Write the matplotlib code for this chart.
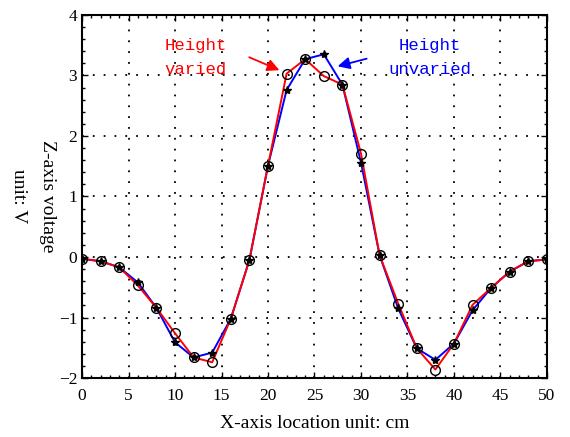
import numpy as np
import matplotlib
matplotlib.use("Agg")
import matplotlib.pyplot as plt
from matplotlib.ticker import MultipleLocator

# -------------------------------
# Data
# -------------------------------
x_cm = [0, 2, 4, 6, 8, 10, 12, 14, 16, 18, 20, 22, 24, 26, 28,
        30, 32, 34, 36, 38, 40, 42, 44, 46, 48, 50]

# height varied (red, open circles)
v_varied = [-0.03, -0.07, -0.17, -0.47, -0.84, -1.26, -1.66, -1.74, -1.02, -0.05,
            1.51, 3.03, 3.27, 2.99, 2.85, 1.71, 0.03, -0.77, -1.51, -1.86,
            -1.43, -0.79, -0.51, -0.24, -0.07, -0.04]

# height unvaried (blue, stars)
v_unvaried = [-0.03, -0.07, -0.17, -0.42, -0.84, -1.41, -1.66, -1.58, -1.02, -0.05,
              1.51, 2.76, 3.27, 3.35, 2.85, 1.56, 0.03, -0.85, -1.51, -1.70,
              -1.43, -0.88, -0.51, -0.24, -0.07, -0.04]

x_ticks = [0, 5, 10, 15, 20, 25, 30, 35, 40, 45, 50]
y_ticks = [-2, -1, 0, 1, 2, 3, 4]

plt.rcParams['font.family'] = ['Liberation Serif', 'DejaVu Serif']

fig = plt.figure(figsize=(5.7, 4.37), dpi=100)
ax = fig.add_axes([0.1439, 0.135, 0.8157, 0.8307])

# lines
ax.plot(x_cm, v_unvaried, color='blue', lw=1.4, zorder=3)
ax.plot(x_cm, v_varied, color='red', lw=1.4, zorder=4)
# markers
ax.plot(x_cm, v_unvaried, ls='none', marker='*', ms=6, color='black', zorder=5)
ax.plot(x_cm, v_varied, ls='none', marker='o', ms=7, mfc='none', mec='black',
        mew=1.0, zorder=6)

ax.set_xlim(0, 50)
ax.set_ylim(-2, 4)
ax.set_xticks(x_ticks)
ax.set_yticks(y_ticks)
ax.xaxis.set_minor_locator(MultipleLocator(1))
ax.yaxis.set_minor_locator(MultipleLocator(0.2))
ax.tick_params(which='both', direction='in', top=True, right=True,
               labelsize=12.5, width=1.0)
ax.tick_params(which='major', length=4)
ax.tick_params(which='minor', length=2)
ax.tick_params(axis='x', pad=7)
for s in ax.spines.values():
    s.set_linewidth(1.5)

ax.grid(True, which='major', color='black', lw=1.3, ls=(0, (1, 5)))

ax.set_xlabel('X-axis location unit: cm', fontsize=14, labelpad=8)
ax.set_ylabel('Z-axis voltage\nunit: V', fontsize=14, rotation=270,
              va='center', linespacing=1.9)
ax.yaxis.set_label_coords(-0.105, 0.5)

# annotations
mono = ['Liberation Mono', 'DejaVu Sans Mono']
ax.text(12.2, 3.3, 'Height\nvaried', color='red', fontsize=12.5, family=mono,
        ha='center', va='center', linespacing=1.75)
ax.text(37.4, 3.3, 'Height\nunvaried', color='blue', fontsize=12.5, family=mono,
        ha='center', va='center', linespacing=1.75)
ax.annotate('', xy=(21.5, 3.07), xytext=(17.7, 3.32),
            arrowprops=dict(arrowstyle='-|>', color='red', lw=1.3,
                            mutation_scale=18))
ax.annotate('', xy=(27.2, 3.14), xytext=(30.9, 3.29),
            arrowprops=dict(arrowstyle='-|>', color='blue', lw=1.3,
                            mutation_scale=18))

fig.savefig('out.png', dpi=100)
